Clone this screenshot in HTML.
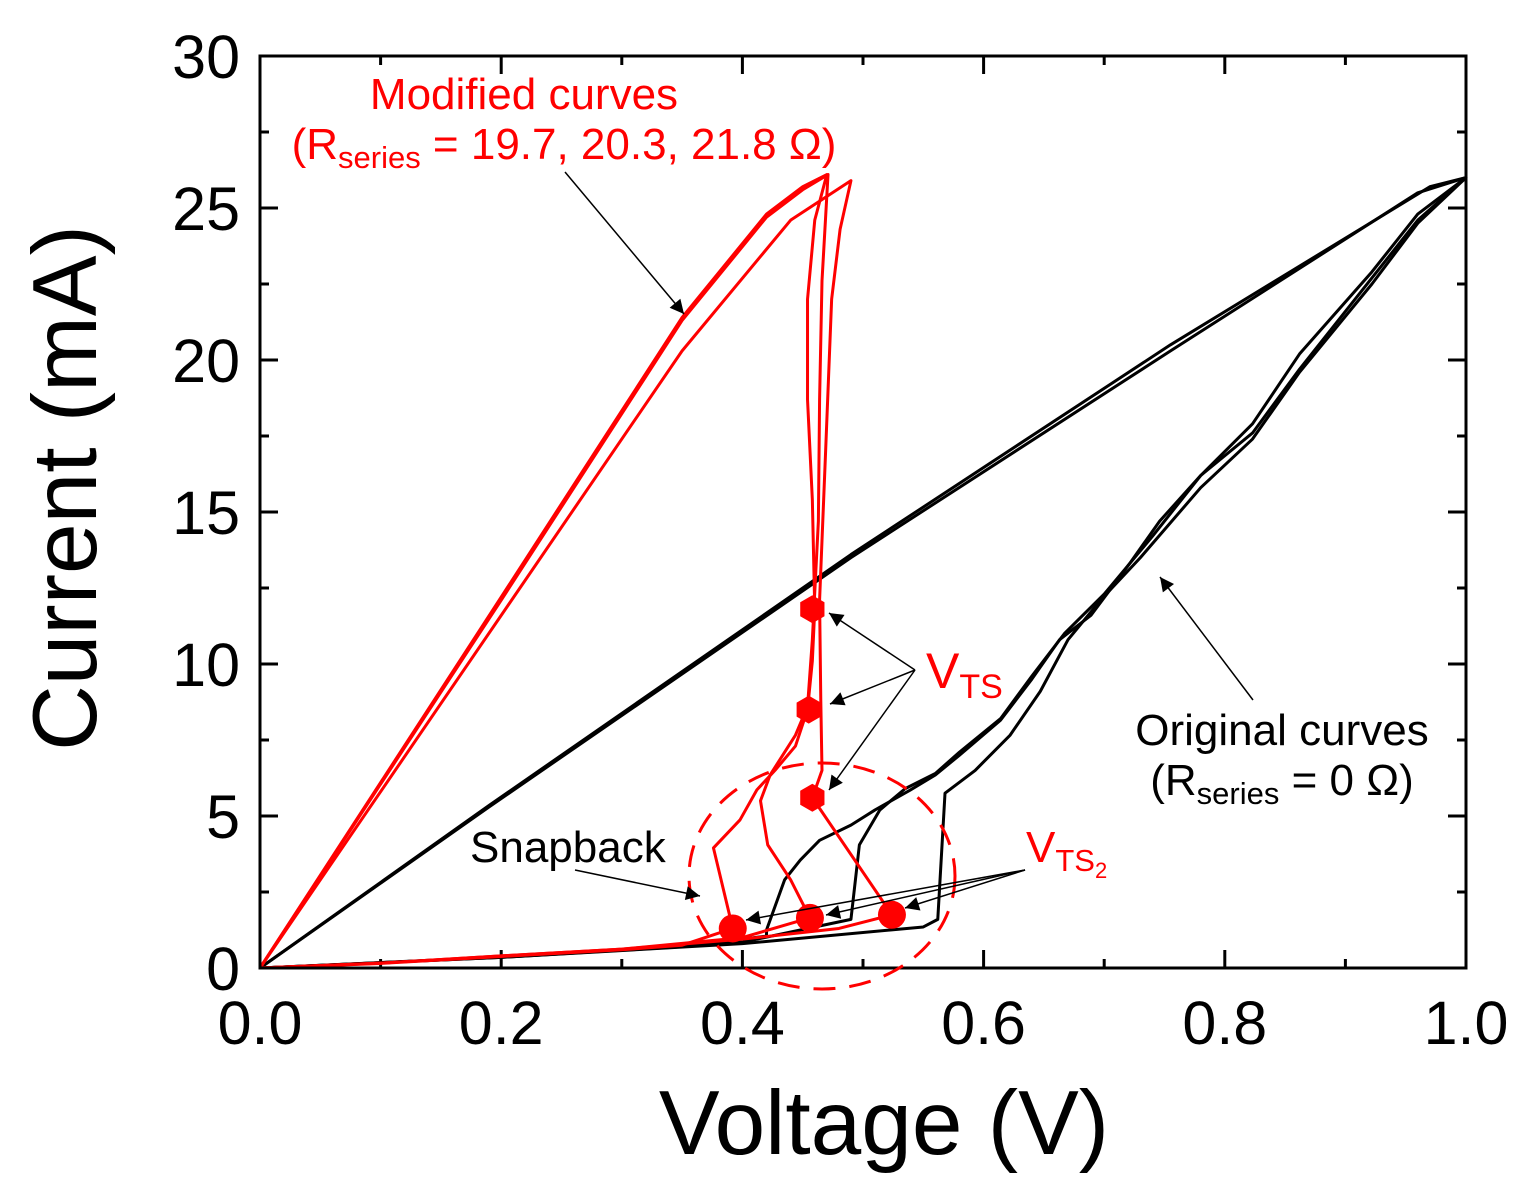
<!DOCTYPE html>
<html><head><meta charset="utf-8"><style>
body{margin:0;background:#fff;}
svg{display:block;font-family:"Liberation Sans",sans-serif;}
</style></head><body>
<svg id="chart" width="1540" height="1199">
<defs>
<marker id="ah" viewBox="0 0 10 10" refX="10" refY="5" markerWidth="26" markerHeight="14" markerUnits="userSpaceOnUse" orient="auto"><path d="M0,0L10,5L0,10Z" fill="#000"/></marker>
</defs>
<g id="plot"></g>
</svg>
<script>
const xTicks=[0,0.2,0.4,0.6,0.8,1.0];
const xTickLabels=["0.0","0.2","0.4","0.6","0.8","1.0"];
const yTicks=[0,5,10,15,20,25,30];
const yTickLabels=["0","5","10","15","20","25","30"];
const redCurveA=[[0,0],[0.1,0.15],[0.2,0.38],[0.3,0.6],[0.35,0.75],[0.392,1.3],[0.376,3.95],[0.398,4.87],[0.412,5.86],[0.427,6.5],[0.444,7.3],[0.454,8.5],[0.458,10.1],[0.46,11.8],[0.458,15.4],[0.454,18.7],[0.454,22],[0.46,24.6],[0.47,26.1],[0.45,25.7],[0.42,24.8],[0.35,21.4],[0.2,12.2],[0,0]];
const redCurveB=[[0,0],[0.1,0.16],[0.2,0.4],[0.3,0.62],[0.4,1.0],[0.456,1.65],[0.44,2.9],[0.421,4.05],[0.415,5.5],[0.423,6.35],[0.444,7.66],[0.454,8.6],[0.458,10.8],[0.463,14.7],[0.464,18.7],[0.466,22.6],[0.471,26.1],[0.45,25.6],[0.42,24.7],[0.35,21.3],[0.2,12.1],[0,0]];
const redCurveC=[[0,0],[0.1,0.16],[0.2,0.4],[0.3,0.62],[0.4,0.95],[0.48,1.3],[0.524,1.75],[0.458,5.6],[0.466,6.5],[0.465,8.8],[0.464,12.1],[0.469,17],[0.474,22],[0.481,24.3],[0.49,25.9],[0.44,24.6],[0.35,20.3],[0.2,11.6],[0,0]];
const blackCurve1=[[0,0],[0.2,0.35],[0.35,0.7],[0.42,1.05],[0.42,1.25],[0.435,2.9],[0.448,3.55],[0.464,4.2],[0.49,4.7],[0.51,5.2],[0.539,5.85],[0.56,6.35],[0.58,7],[0.614,8.15],[0.64,9.5],[0.663,10.8],[0.689,11.6],[0.721,13.3],[0.746,14.7],[0.78,16.2],[0.823,17.6],[0.862,19.7],[0.922,22.7],[0.96,24.6],[1,26],[0.96,25.5],[0.755,20.3],[0.49,13.5],[0.19,5.3],[0,0]];
const blackCurve2=[[0,0],[0.2,0.36],[0.4,0.85],[0.49,1.6],[0.497,4.05],[0.514,5.2],[0.535,5.9],[0.56,6.4],[0.58,7.1],[0.614,8.2],[0.64,9.6],[0.667,11],[0.7,12.3],[0.74,14.2],[0.78,16.2],[0.823,17.9],[0.862,20.2],[0.922,22.9],[0.96,24.8],[1,26],[0.97,25.7],[0.755,20.5],[0.49,13.6],[0.19,5.35],[0,0]];
const blackCurve3=[[0,0],[0.2,0.35],[0.4,0.8],[0.55,1.35],[0.562,1.6],[0.568,5.75],[0.593,6.5],[0.622,7.66],[0.647,9.1],[0.67,10.8],[0.697,12.1],[0.73,13.5],[0.78,15.8],[0.823,17.4],[0.862,19.6],[0.922,22.5],[0.96,24.5],[1,26]];
const hexMarkers=[[0.458,11.8],[0.455,8.5],[0.458,5.6]];
const circMarkers=[[0.392,1.3],[0.456,1.65],[0.524,1.75]];

const X0=260,X1=1466,Y0=968,Y1=56;
const sx=v=>X0+(X1-X0)*v;
const sy=v=>Y0-(Y0-Y1)*v/30;
const NS="http://www.w3.org/2000/svg";
const g=document.getElementById('plot');
function mk(tag,attrs,parent){const e=document.createElementNS(NS,tag);for(const k in attrs)e.setAttribute(k,attrs[k]);(parent||g).appendChild(e);return e;}

for(let i=0;i<=10;i++){const v=i/10,x=sx(v),L=i%2?9:18;
 const t=mk('line',{x1:x,x2:x,y1:Y0,y2:Y0-L,stroke:'#000','stroke-width':3});
 
 
 const t2=mk('line',{x1:x,x2:x,y1:Y1,y2:Y1+L,stroke:'#000','stroke-width':3});
 
 }
for(let i=0;i<=12;i++){const v=i*2.5,y=sy(v),L=i%2?9:18;
 const t=mk('line',{x1:X0,x2:X0+L,y1:y,y2:y,stroke:'#000','stroke-width':3});
 
 
 const t2=mk('line',{x1:X1,x2:X1-L,y1:y,y2:y,stroke:'#000','stroke-width':3});
 
 }
xTicks.forEach((v,i)=>{const t=mk('text',{x:sx(v),y:1044,'font-size':61,'text-anchor':'middle'});t.textContent=xTickLabels[i];
 
 });
yTicks.forEach((v,i)=>{const t=mk('text',{x:240,y:sy(v)+22,'font-size':61,'text-anchor':'end'});t.textContent=yTickLabels[i];
 
 });

function curve(d,color,w,name){const p=mk('polyline',{points:d.map(q=>sx(q[0])+','+sy(q[1])).join(' '),fill:'none',stroke:color,'stroke-width':w,'stroke-linejoin':'round'});
 
 }
curve(blackCurve1,'#000',3,'original-curve-1');
curve(blackCurve2,'#000',3,'original-curve-2');
curve(blackCurve3,'#000',3,'original-curve-3');
curve(redCurveA,'#f00',3,'modified-curve-1');
curve(redCurveB,'#f00',3,'modified-curve-2');
curve(redCurveC,'#f00',3,'modified-curve-3');

hexMarkers.forEach(m=>{const cx=sx(m[0]),cy=sy(m[1]),r=14;let pts=[];for(let k=0;k<6;k++){const a=Math.PI/6+k*Math.PI/3;pts.push((cx+r*Math.cos(a))+','+(cy+r*Math.sin(a)));}
 const h=mk('polygon',{points:pts.join(' '),fill:'#f00'});
 
 });
circMarkers.forEach(m=>{const c=mk('circle',{cx:sx(m[0]),cy:sy(m[1]),r:14,fill:'#f00'});
 
 });

const fr=mk('rect',{x:X0,y:Y1,width:X1-X0,height:Y0-Y1,fill:'none',stroke:'#000','stroke-width':3});



const dc=mk('ellipse',{cx:822,cy:876,rx:133,ry:113,fill:'none',stroke:'#f00','stroke-width':3,'stroke-dasharray':'22 14'});



function arr(x1,y1,x2,y2,name){const a=mk('line',{x1,y1,x2,y2,stroke:'#000','stroke-width':1.5,'marker-end':'url(#ah)'});
 
 }
arr(565,172,684,314,'modified-arrow');
arr(1253,700,1160,577,'original-arrow');
arr(915,670,829,613,'vts-arrow-1');
arr(915,670,830,704,'vts-arrow-2');
arr(915,670,829,790,'vts-arrow-3');
arr(575,870,700,896,'snapback-arrow');
arr(1025,870,746,920,'vts2-arrow-1');
arr(1025,870,826,915,'vts2-arrow-2');
arr(1025,870,905,908,'vts2-arrow-3');
</script>
<div style="position:absolute;left:0;top:0;width:1540px;height:1199px;pointer-events:none;font-family:'Liberation Sans',sans-serif;">
<div style="position:absolute;left:66px;top:488px;transform:translate(-50%,-50%) rotate(-90deg);font-size:91px;white-space:nowrap;">Current (mA)</div>
<div style="position:absolute;left:884px;top:1072px;transform:translateX(-50%);font-size:91px;white-space:nowrap;">Voltage (V)</div>
<div style="position:absolute;left:524px;top:70px;transform:translateX(-50%);color:#f00;font-size:44px;white-space:nowrap;line-height:50px;">Modified curves</div>
<div style="position:absolute;left:564px;top:120px;transform:translateX(-50%);color:#f00;font-size:44px;white-space:nowrap;line-height:50px;">(R<sub style="font-size:31px;vertical-align:-9px">series</sub> = 19.7, 20.3, 21.8 Ω)</div>
<div style="position:absolute;left:1282px;top:706px;transform:translateX(-50%);font-size:44px;text-align:center;white-space:nowrap;line-height:50px;">Original curves<br>(R<sub style="font-size:31px;vertical-align:-9px">series</sub> = 0 Ω)</div>
<div style="position:absolute;left:926px;top:642px;color:#f00;font-size:50px;white-space:nowrap;">V<sub style="font-size:34px;vertical-align:-10px">TS</sub></div>
<div style="position:absolute;left:1026px;top:823px;color:#f00;font-size:44px;white-space:nowrap;">V<sub style="font-size:31px;vertical-align:-9px">TS<sub style="font-size:22px">2</sub></sub></div>
<div style="position:absolute;left:470px;top:823px;font-size:44px;white-space:nowrap;">Snapback</div>
</div>
</body></html>
